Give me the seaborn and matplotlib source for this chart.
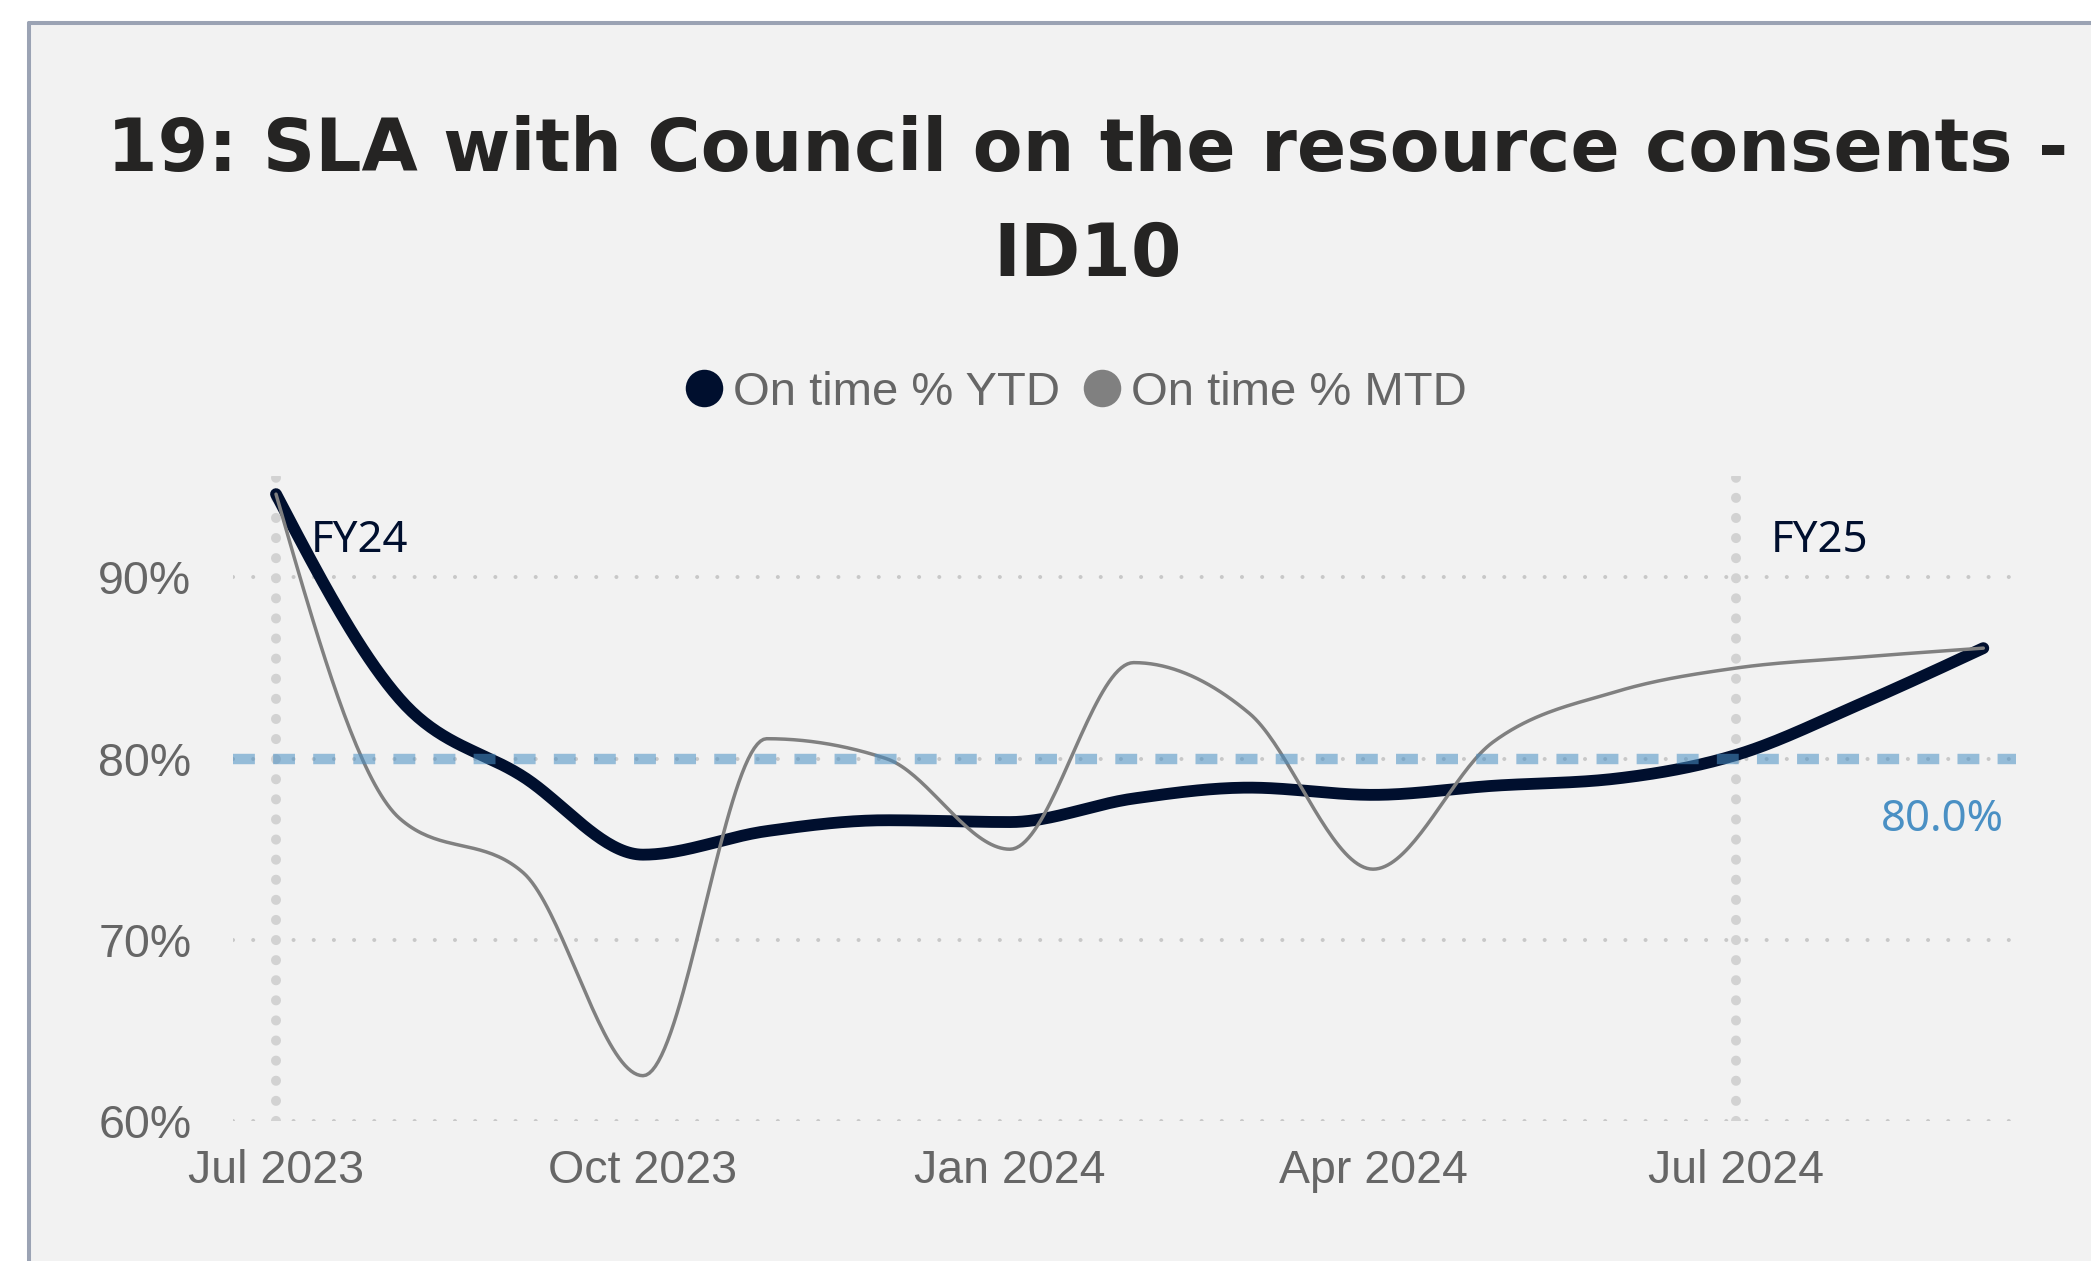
import numpy as np
import pandas as pd
import matplotlib
matplotlib.use("Agg")
import matplotlib.pyplot as plt
import matplotlib.dates as mdates
from matplotlib.lines import Line2D
from matplotlib.patches import Rectangle
import seaborn as sns

# ---------------- data ----------------
months = ["2023-07-01", "2023-08-01", "2023-09-01", "2023-10-01", "2023-11-01",
          "2023-12-01", "2024-01-01", "2024-02-01", "2024-03-01", "2024-04-01",
          "2024-05-01", "2024-06-01", "2024-07-01", "2024-08-01", "2024-09-01"]
ytd = [94.6, 83.3, 79.0, 74.7, 76.0, 76.6, 76.5, 77.8, 78.4, 78.0, 78.5, 78.9, 80.2, 83.0, 86.1]
mtd = [94.6, 76.7, 73.7, 62.5, 81.1, 80.0, 75.0, 85.3, 82.5, 73.9, 80.9, 83.7, 85.0, 85.6, 86.1]
series_names = ["On time % YTD", "On time % MTD"]
target = 80.0
target_label = "80.0%"
fy_dates = ["2023-07-01", "2024-07-01"]
fy_labels = ["FY24", "FY25"]
tick_dates = ["2023-07-01", "2023-10-01", "2024-01-01", "2024-04-01", "2024-07-01"]
tick_labels = ["Jul 2023", "Oct 2023", "Jan 2024", "Apr 2024", "Jul 2024"]
y_ticks = [60, 70, 80, 90]
y_tick_labels = ["60%", "70%", "80%", "90%"]
title_lines = ["19: SLA with Council on the resource consents -", "ID10"]

# ---------------- style ----------------
W, H = 2091, 1261
sns.set_theme(style="white")
plt.rcParams['font.family'] = ['Liberation Sans', 'DejaVu Sans']

C_YTD = "#000F2E"
C_MTD = "#808080"
C_TXT = "#666666"
C_TARGET = "#4A90C4"

def fx(px):
    return px / W

def fy(py):
    return 1 - py / H

def monotone_curve(x, y, n=40):
    """d3 monotoneX-style smoothing (Steffen) for rendering the line."""
    x = np.asarray(x, float)
    y = np.asarray(y, float)
    h = np.diff(x)
    s = np.diff(y) / h
    m = np.zeros_like(y)
    for i in range(1, len(y) - 1):
        p = (s[i - 1] * h[i] + s[i] * h[i - 1]) / (h[i - 1] + h[i])
        m[i] = (np.sign(s[i - 1]) + np.sign(s[i])) * min(abs(s[i - 1]), abs(s[i]), 0.5 * abs(p))
    m[0] = (3 * s[0] - m[1]) / 2
    m[-1] = (3 * s[-1] - m[-2]) / 2
    xs, ys = [], []
    for i in range(len(h)):
        t = np.linspace(0, 1, n, endpoint=(i == len(h) - 1))
        h00 = 2 * t**3 - 3 * t**2 + 1
        h10 = t**3 - 2 * t**2 + t
        h01 = -2 * t**3 + 3 * t**2
        h11 = t**3 - t**2
        xs.append(x[i] + t * h[i])
        ys.append(h00 * y[i] + h10 * h[i] * m[i] + h01 * y[i + 1] + h11 * h[i] * m[i + 1])
    return np.concatenate(xs), np.concatenate(ys)

fig = plt.figure(figsize=(W / 100, H / 100), dpi=100)
fig.patch.set_facecolor("white")

# card background and border
fig.add_artist(Rectangle((fx(29), 0), 1 - fx(29), fy(23), transform=fig.transFigure,
                         facecolor="#F2F2F2", edgecolor="none", zorder=-10))
fig.add_artist(Line2D([fx(29), 1], [fy(23), fy(23)], transform=fig.transFigure,
                      color="#9BA3B4", lw=2.9, zorder=-5))
fig.add_artist(Line2D([fx(29), fx(29)], [0, fy(23)], transform=fig.transFigure,
                      color="#9BA3B4", lw=2.9, zorder=-5))

ax = fig.add_axes([fx(233), fy(1121), fx(2016) - fx(233), fy(476) - fy(1121)])
ax.patch.set_visible(False)

xd = mdates.date2num(pd.to_datetime(months))
x0 = mdates.date2num(pd.Timestamp("2023-07-01"))
px_per_day = 1460 / 366
ax.set_xlim(x0 - 43 / px_per_day, x0 + 1740 / px_per_day)
ax.set_ylim(60, 95.6)

# gridlines
for yv in y_ticks:
    ax.axhline(yv, color="#C8C8C8", lw=2.9, linestyle=(0, (0.01, 5.0)),
               dash_capstyle="round", zorder=1)
for d in fy_dates:
    ax.axvline(mdates.date2num(pd.Timestamp(d)), color="#D2D2D2", lw=7.2,
               linestyle=(0, (0.01, 2.0)), dash_capstyle="round", zorder=1)

# lines
sx, sy = monotone_curve(xd, ytd)
df_ytd = pd.DataFrame({"x": sx, "y": sy})
sns.lineplot(data=df_ytd, x="x", y="y", ax=ax, color=C_YTD, lw=8.5, sort=False,
             estimator=None, zorder=3, solid_capstyle="round")
mx, my = monotone_curve(xd, mtd)
df_mtd = pd.DataFrame({"x": mx, "y": my})
sns.lineplot(data=df_mtd, x="x", y="y", ax=ax, color=C_MTD, lw=2.5, sort=False,
             estimator=None, zorder=4, solid_capstyle="round")

# target line
ax.axhline(target, color=C_TARGET, alpha=0.55, lw=7.5, linestyle=(0, (2.1, 1.75)), zorder=5)
ax.annotate(target_label, xy=(1, target), xycoords=("axes fraction", "data"),
            xytext=(-9, -44), textcoords="offset points", ha="right", va="center",
            fontsize=31.5, color=C_TARGET, family=["Noto Sans", "DejaVu Sans"])

# FY labels
for d, lab in zip(fy_dates, fy_labels):
    ax.annotate(lab, xy=(mdates.date2num(pd.Timestamp(d)), 1),
                xycoords=("data", "axes fraction"), xytext=(25, -47),
                textcoords="offset points", ha="left", va="center",
                fontsize=31.5, color=C_YTD, family=["Noto Sans", "DejaVu Sans"])

# axes
ax.set_yticks(y_ticks)
ax.set_yticklabels(y_tick_labels)
ax.set_xticks(mdates.date2num(pd.to_datetime(tick_dates)))
ax.set_xticklabels(tick_labels)
ax.tick_params(axis="both", length=0, labelsize=33.5, labelcolor=C_TXT)
ax.tick_params(axis="y", pad=30)
ax.tick_params(axis="x", pad=20)
ax.set_xlabel("")
ax.set_ylabel("")
for sp in ax.spines.values():
    sp.set_visible(False)

# legend
handles = [Line2D([], [], marker="o", ls="", markersize=27, color=c, markeredgewidth=0)
           for c in (C_YTD, C_MTD)]
fig.legend(handles, series_names, loc="center", bbox_to_anchor=(fx(1076), fy(393)),
           ncol=2, frameon=False, fontsize=34, labelcolor=C_TXT, handlelength=0.8,
           handletextpad=0.2, columnspacing=0.5, borderpad=0)

# title fitted to width
t1 = fig.text(fx(1088), fy(171), title_lines[0], ha="center", va="baseline",
              fontsize=60, fontweight="bold", family="DejaVu Sans", color="#252423")
fig.canvas.draw()
r = fig.canvas.get_renderer()
w = t1.get_window_extent(r).width
fs = 60 * 1963 / w
t1.set_fontsize(fs)
fig.text(fx(1088), fy(276), title_lines[1], ha="center", va="baseline",
         fontsize=fs, fontweight="bold", family="DejaVu Sans", color="#252423")

fig.savefig("out.png", dpi=100, facecolor="white")
